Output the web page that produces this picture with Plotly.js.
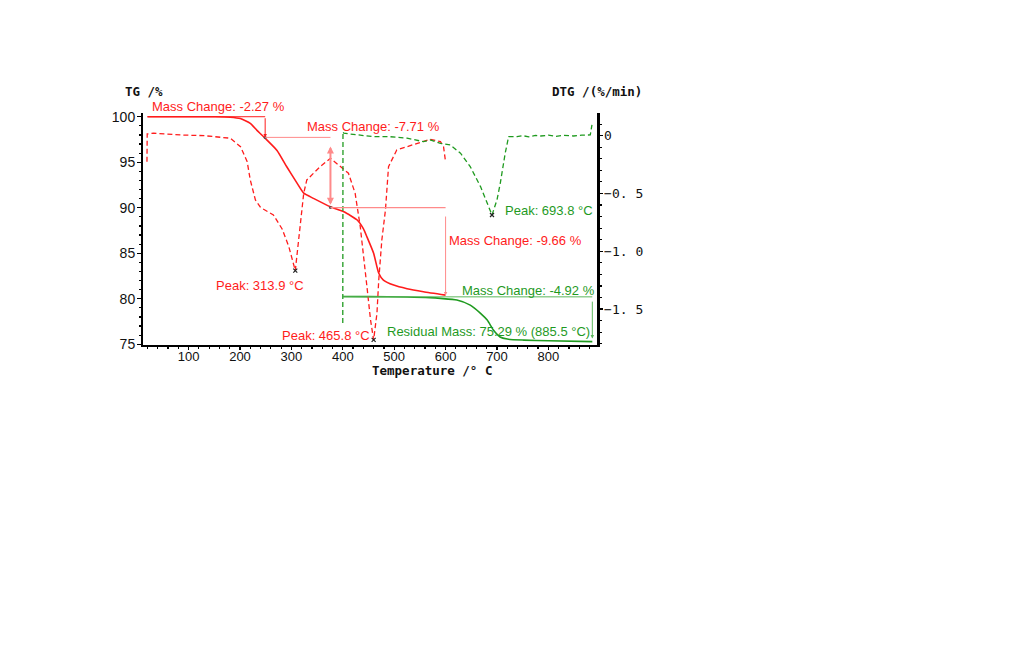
<!DOCTYPE html>
<html>
<head>
<meta charset="utf-8">
<script src="https://cdn.plot.ly/plotly-3.0.1.min.js"></script>
<style>html,body{margin:0;padding:0;background:#fff;}#chart{width:1024px;height:645px;}</style>
</head>
<body>
<div id="chart"></div>
<script>
// ---- Data ----
const redTG_T = [20, 152, 181, 200.6, 220, 233, 246, 272, 291, 311, 324, 343, 376, 402, 428, 440, 447, 460, 470, 479, 499, 525, 557, 600];
const redTG   = [100, 100, 99.95, 99.8, 99.27, 98.5, 97.8, 96.3, 94.5, 92.7, 91.6, 91.03, 90.1, 89.56, 88.65, 87.7, 86.8, 85.0, 82.8, 82.05, 81.5, 81.1, 80.77, 80.4];

const greenTG_T = [400, 450, 525, 570, 590, 622, 648, 668, 681, 693, 706, 720, 752, 800, 885.5];
const greenTG   = [80.25, 80.24, 80.2, 80.12, 80.04, 79.86, 79.3, 78.4, 77.66, 76.56, 75.8, 75.57, 75.46, 75.38, 75.29];

const redDTG_T = [19, 19.5, 32, 84, 130, 162, 181, 201, 214, 220, 230, 240, 265, 282, 295, 307.6, 317, 324, 330, 356, 376, 395, 411, 424, 434, 447, 454, 460, 466.5, 470, 476, 483, 489, 505, 525, 557, 570, 590, 596, 599.5];
const redDTG   = [-0.225, 0.015, 0.021, 0.006, 0.0, -0.014, -0.022, -0.095, -0.225, -0.383, -0.556, -0.621, -0.686, -0.807, -0.96, -1.168, -0.787, -0.498, -0.383, -0.268, -0.196, -0.268, -0.325, -0.498, -0.787, -1.306, -1.594, -1.767, -1.536, -1.248, -0.902, -0.643, -0.268, -0.124, -0.095, -0.052, -0.031, -0.052, -0.095, -0.21];

const greenDTG_T = [400, 400.4, 402, 428, 460, 492, 525, 557, 570, 590, 609, 629, 648, 668, 680.5, 690.3, 700, 706.4, 716, 722.6, 739, 750, 762, 775, 785, 800, 815, 830, 849, 865, 881.5, 884.8];
const greenDTG   = [-1.62, 0.035, 0.021, 0.006, -0.009, -0.009, -0.022, -0.052, -0.037, -0.066, -0.08, -0.152, -0.268, -0.441, -0.585, -0.686, -0.556, -0.412, -0.152, -0.009, -0.009, 0.0, -0.01, 0.002, -0.003, 0.004, -0.006, 0.003, -0.003, 0.005, 0.006, 0.093];

// mass-change steps
const redStepT  = [249, 376, 600];
const redStepTG = [97.73, 90.02, 80.36];
const redStartTG = 100;
const greenStartTG = 80.21;
const residualT = 885.5, residualTG = 75.29;

const peakLabels = ['Peak: 313.9 °C', 'Peak: 465.8 °C', 'Peak: 693.8 °C'];
const massLabels = ['Mass Change: -2.27 %', 'Mass Change: -7.71 %', 'Mass Change: -9.66 %'];
const greenMassLabel = 'Mass Change: -4.92 %';
const residualLabel = 'Residual Mass: 75.29 % (885.5 °C)';

const xTicks = [100, 200, 300, 400, 500, 600, 700, 800];
const y2TickVals = [0, -0.5, -1.0, -1.5];
const y2TickText = ['0', '\u22120. 5', '\u22121. 0', '\u22121. 5'];

// ---- Styles ----
const RED = '#ff1c1c', PINK = '#ff8a8a', GREEN = '#1f9a1f', GREEN_L = '#5cb85c';
const SANS = 'Liberation Sans, Arial, sans-serif';
const MONO = 'DejaVu Sans Mono, monospace';

function minIn(T, D, lo, hi) {
  let bi = -1;
  for (let i = 0; i < T.length; i++) if (T[i] >= lo && T[i] <= hi && (bi < 0 || D[i] < D[bi])) bi = i;
  return [T[bi], D[bi]];
}
const p1 = minIn(redDTG_T, redDTG, 250, 400);
const p2 = minIn(redDTG_T, redDTG, 400, 520);
const p3 = minIn(greenDTG_T, greenDTG, 600, 800);

const traces = [
  {x: redTG_T, y: redTG, mode: 'lines', line: {color: RED, width: 1.6, shape: 'spline', smoothing: 0.5}, yaxis: 'y', hoverinfo: 'skip'},
  {x: greenTG_T, y: greenTG, mode: 'lines', line: {color: GREEN, width: 1.6, shape: 'spline', smoothing: 0.6}, yaxis: 'y', hoverinfo: 'skip'},
  {x: redDTG_T, y: redDTG, mode: 'lines', line: {color: RED, width: 1.3, dash: '5px,3px'}, yaxis: 'y2', hoverinfo: 'skip'},
  {x: greenDTG_T, y: greenDTG, mode: 'lines', line: {color: GREEN, width: 1.3, dash: '5px,3px'}, yaxis: 'y2', hoverinfo: 'skip'},
  {x: [p1[0], p2[0], p3[0]], y: [p1[1], p2[1], p3[1]], mode: 'markers', yaxis: 'y2',
   marker: {symbol: 'x-thin', size: 4, color: '#222', line: {width: 1.2, color: '#222'}}, hoverinfo: 'skip'},
  {x: redStepT.slice(0, 2), y: redStepTG.slice(0, 2), mode: 'markers', yaxis: 'y',
   marker: {symbol: 'circle', size: 3, color: '#555'}, hoverinfo: 'skip'}
];

const shapes = [
  {type: 'line', xref: 'x', yref: 'y', x0: redTG_T[0], x1: redStepT[0], y0: redStartTG, y1: redStartTG, line: {color: RED, width: 1}},
  {type: 'line', xref: 'x', yref: 'y', x0: redStepT[0], x1: redStepT[1], y0: redStepTG[0], y1: redStepTG[0], line: {color: PINK, width: 1}},
  {type: 'line', xref: 'x', yref: 'y', x0: redStepT[1], x1: redStepT[2], y0: redStepTG[1], y1: redStepTG[1], line: {color: PINK, width: 1.2}},
  {type: 'line', xref: 'x', yref: 'y', x0: greenTG_T[0], x1: residualT, y0: greenStartTG, y1: greenStartTG, line: {color: GREEN_L, width: 1}}
];

function arrow(x, yHead, yTail, color, width, sides) {
  return {xref: 'x', yref: 'y', axref: 'x', ayref: 'y', x: x, y: yHead, ax: x, ay: yTail, text: '',
          showarrow: true, arrowhead: 2, arrowsize: 0.7, arrowwidth: width, arrowcolor: color, arrowside: sides || 'end'};
}
function lbl(text, x, y, color) {
  return {xref: 'x', yref: 'y', x: x, y: y, text: text, showarrow: false, xanchor: 'left', yanchor: 'middle',
          font: {family: SANS, size: 13, color: color}};
}
function plbl(text, px, py, font) {
  return {xref: 'paper', yref: 'paper', x: (px - 143) / 454, y: (345 - py) / 232, text: text,
          showarrow: false, xanchor: 'left', yanchor: 'middle', font: font};
}
const titleFont = {family: MONO, size: 12.5, color: '#111', weight: 'bold'};

const annotations = [
  arrow(redStepT[0], redStepTG[0], redStartTG, RED, 1),
  arrow(redStepT[1], redStepTG[1] + 0.3, 96.9, PINK, 2, 'end+start'),
  arrow(redStepT[2], redStepTG[2], 89.2, PINK, 1),
  arrow(residualT, residualTG + 0.35, 79.85, GREEN_L, 1),
  plbl(massLabels[0], 150, 106, {family: SANS, size: 13, color: RED}),
  lbl(massLabels[1], 327, 98.98, RED),
  lbl(massLabels[2], 603.3, 86.45, RED),
  lbl(greenMassLabel, 628.8, 80.88, GREEN),
  lbl(residualLabel, 482.7, 76.37, GREEN),
  lbl(peakLabels[0], 148.5, 81.5, RED),
  lbl(peakLabels[1], 277, 76.0, RED),
  lbl(peakLabels[2], 710.9, 89.75, GREEN),
  plbl('TG /%', 123, 91, titleFont),
  plbl('DTG /(%/min)', 550, 91, titleFont),
  plbl('Temperature /° C', 370, 370, titleFont)
];

const layout = {
  width: 1024, height: 645,
  margin: {l: 143, r: 427, t: 113, b: 300, pad: 0},
  paper_bgcolor: '#fff', plot_bgcolor: '#fff',
  showlegend: false,
  xaxis: {
    range: [11.3, 894.6], tickmode: 'array', tickvals: xTicks, showgrid: false, zeroline: false,
    showline: true, linecolor: '#000', linewidth: 2, ticks: 'outside', ticklen: 3, tickwidth: 1.2, tickcolor: '#000',
    ticklabelstandoff: -5,
    tickfont: {family: SANS, size: 13, color: '#111'},
    minor: {tickmode: 'linear', tick0: 0, dtick: 20, ticks: 'outside', ticklen: 2, tickcolor: '#000', showgrid: false}
  },
  yaxis: {
    range: [74.92, 100.41], tickmode: 'linear', tick0: 75, dtick: 5, showgrid: false, zeroline: false,
    showline: true, linecolor: '#000', linewidth: 2, ticks: 'outside', ticklen: 4, tickwidth: 1.2, tickcolor: '#000',
    ticklabelstandoff: -1,
    tickfont: {family: SANS, size: 14, color: '#111'},
    minor: {tickmode: 'linear', tick0: 75, dtick: 1, ticks: 'outside', ticklen: 2, tickcolor: '#000', showgrid: false}
  },
  yaxis2: {
    overlaying: 'y', side: 'right', range: [-1.811, 0.196], tickmode: 'array', tickvals: y2TickVals, ticktext: y2TickText,
    showgrid: false, zeroline: false, showline: true, linecolor: '#000', linewidth: 2.5,
    ticks: 'outside', ticklen: 3, tickwidth: 1.2, tickcolor: '#000',
    ticklabelstandoff: -1,
    tickfont: {family: MONO, size: 13, color: '#111'},
    minor: {tickmode: 'linear', tick0: 0, dtick: 0.1, ticks: 'outside', ticklen: 2, tickcolor: '#000', showgrid: false}
  },
  shapes: shapes,
  annotations: annotations
};

Plotly.newPlot('chart', traces, layout, {staticPlot: true, displayModeBar: false});
</script>
</body>
</html>
